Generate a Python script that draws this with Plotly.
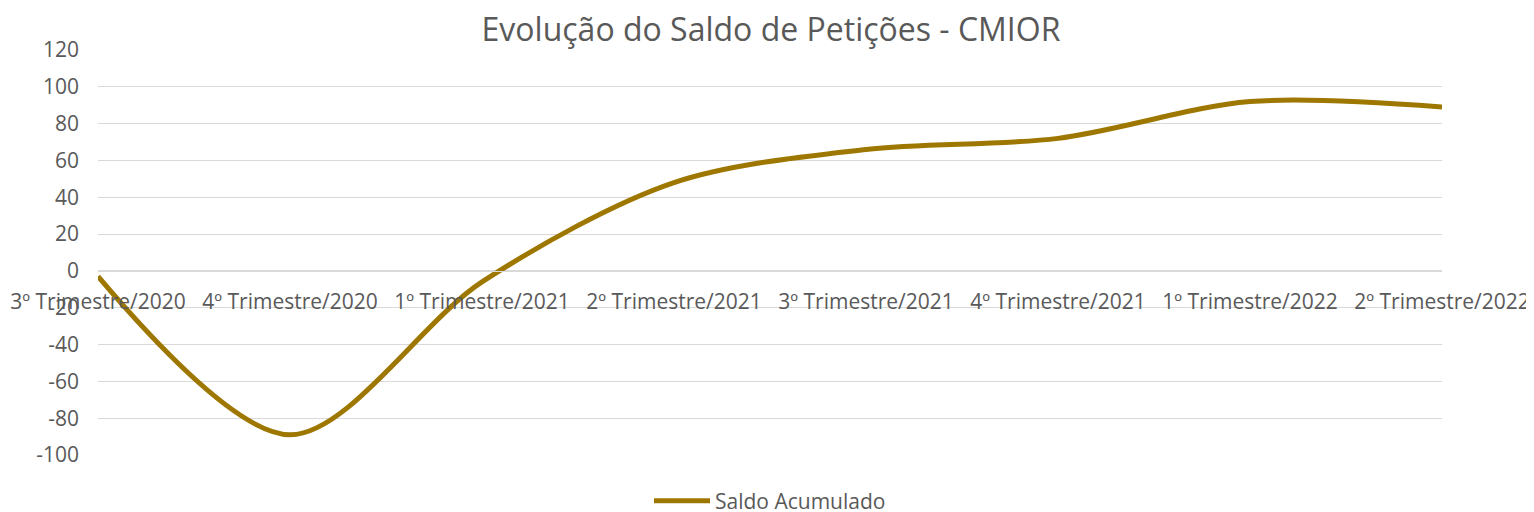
import plotly.graph_objects as go

categories = ["3º Trimestre/2020", "4º Trimestre/2020", "1º Trimestre/2021", "2º Trimestre/2021",
              "3º Trimestre/2021", "4º Trimestre/2021", "1º Trimestre/2022", "2º Trimestre/2022"]
saldo = [-3, -89, -6, 48, 66, 72, 92, 89]
y_ticks = [-100, -80, -60, -40, -20, 0, 20, 40, 60, 80, 100, 120]
y_tick_labels = [str(v) for v in y_ticks]

FONT = "'Open Sans', sans-serif"
GREY = "#595959"

# page body has an 8px default margin; compensate so the figure fills 1534x512
OFF = 8
W, H = 1534 - OFF, 512 - OFF
plot_left, plot_right = 98 - OFF, 1442 - OFF
plot_top, plot_bottom = 50 - OFF, 455 - OFF
plot_h = plot_bottom - plot_top
zero_frac = (0 - (-100)) / 220.0

fig = go.Figure()
fig.add_trace(go.Scatter(
    x=categories, y=saldo, mode="lines", name="Saldo Acumulado",
    line=dict(color="#9E7700", width=5, shape="spline", smoothing=0.9),
))

fig.update_layout(
    width=W, height=H,
    margin=dict(l=plot_left, r=W - plot_right, t=plot_top, b=H - plot_bottom, autoexpand=False),
    paper_bgcolor="white", plot_bgcolor="white",
    font=dict(family=FONT, color=GREY, size=21),
    title=dict(text="Evolução do Saldo de Petições - CMIOR", x=0.5, xanchor="center",
               y=1 - (30 - OFF) / H, yref="container", yanchor="middle",
               font=dict(size=32, color=GREY, family=FONT)),
    showlegend=True,
    legend=dict(orientation="h", x=0.5, xanchor="center",
                y=-((501 - OFF) - plot_bottom) / plot_h, itemwidth=56,
                yanchor="middle", font=dict(size=21, color=GREY), bgcolor="rgba(0,0,0,0)"),
    xaxis=dict(type="category", range=[0, len(categories) - 1], showgrid=False, automargin=False,
               anchor="free", position=zero_frac, showline=True, linecolor="#D9D9D9", linewidth=1,
               ticks="outside", ticklen=12, tickcolor="rgba(0,0,0,0)",
               tickfont=dict(size=21, color=GREY, family=FONT), zeroline=False),
    yaxis=dict(range=[-100, 120], tickvals=y_ticks, ticktext=y_tick_labels,
               showgrid=True, gridcolor="#D9D9D9", gridwidth=1,
               zeroline=False, showline=False, ticks="", ticklabelstandoff=18, automargin=False,
               tickfont=dict(size=21, color=GREY, family=FONT)),
)

fig.write_html("out.html")
